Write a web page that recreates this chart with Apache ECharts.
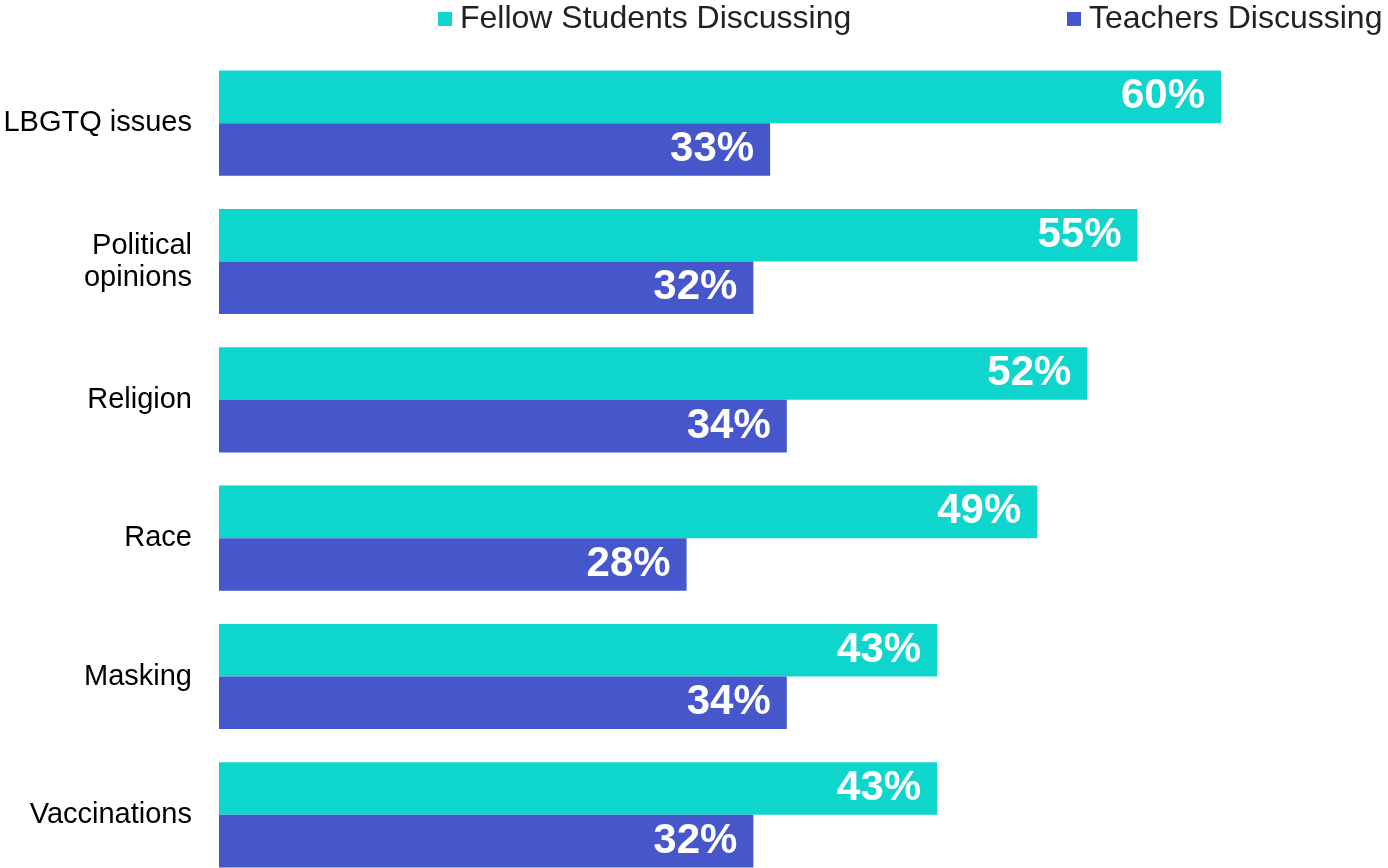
<!DOCTYPE html>
<html>
<head>
<meta charset="utf-8">
<script src="https://cdn.jsdelivr.net/npm/echarts@6/dist/echarts.min.js"></script>
<style>
  html, body { margin: 0; padding: 0; background: #fff; }
  #chart { width: 1388px; height: 868px; }
</style>
</head>
<body>
<div id="chart"></div>
<script>
const topics = ["LBGTQ issues", "Political\nopinions", "Religion", "Race", "Masking", "Vaccinations"];
const fellowStudents = [60, 55, 52, 49, 43, 43];
const teachers = [33, 32, 34, 28, 34, 32];
const seriesNames = ["Fellow Students Discussing", "Teachers Discussing"];

const font = "Liberation Sans, Arial, sans-serif";

const chart = echarts.init(document.getElementById("chart"));

// shared label style for the bar values
const valueLabel = {
  show: true,
  position: "insideRight",
  distance: 16,
  formatter: "{c}%",
  color: "#fff",
  fontFamily: font,
  fontWeight: "bold",
  fontSize: 42,
};

function legendAt(left, name) {
  return {
    left: left,
    top: -2,
    itemWidth: 14,
    itemHeight: 14,
    icon: "rect",
    textStyle: { fontFamily: font, fontSize: 32, color: "#222", padding: [0, 0, 0, 3] },
    data: [name],
  };
}

chart.setOption({
  animation: false,
  legend: [legendAt(433, seriesNames[0]), legendAt(1062, seriesNames[1])],
  // last band runs past the bottom edge, as in the original
  grid: { left: 219, top: 54, height: 830, right: 0, containLabel: false, outerBoundsMode: "none" },
  xAxis: {
    type: "value",
    min: 0,
    max: 70,
    show: false,
    splitLine: { show: false },
  },
  yAxis: {
    type: "category",
    inverse: true,
    data: topics,
    axisLine: { show: false },
    axisTick: { show: false },
    axisLabel: {
      margin: 27,
      fontFamily: font,
      fontSize: 29,
      lineHeight: 32,
      color: "#000",
      align: "right",
      padding: [4, 0, 0, 0],
    },
  },
  series: [
    {
      name: seriesNames[0],
      type: "bar",
      data: fellowStudents,
      barGap: "0%",
      barCategoryGap: "24%",
      itemStyle: { color: "#0FD6CC" },
      label: valueLabel,
    },
    {
      name: seriesNames[1],
      type: "bar",
      data: teachers,
      barGap: "0%",
      barCategoryGap: "24%",
      itemStyle: { color: "#4657CC" },
      label: valueLabel,
    },
  ],
});
</script>
</body>
</html>
